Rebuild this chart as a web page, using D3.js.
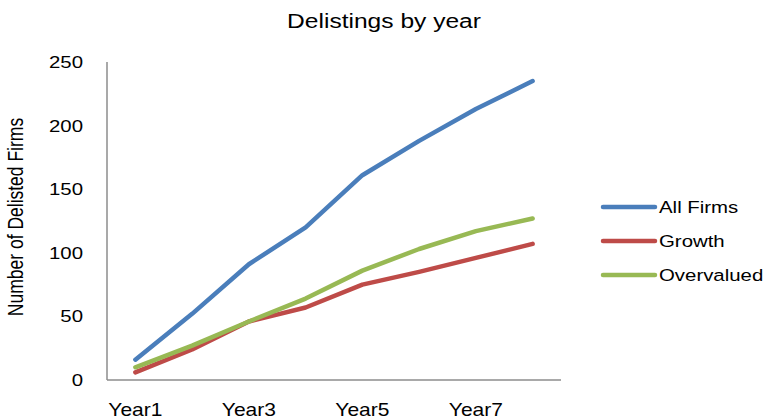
<!DOCTYPE html>
<meta charset="utf-8">
<head>
  <title>Delistings by year</title>
  <script src="https://d3js.org/d3.v7.min.js"></script>
  <style>
    body { margin: 0; background: #fff; font-family: "Liberation Sans", Arial, sans-serif; }
    .axis-line { stroke: #8c8c8c; stroke-width: 1.5; fill: none; }
    .series { fill: none; stroke-width: 4.5; stroke-linecap: round; stroke-linejoin: round; }
  </style>
</head>
<body>
<script>
  // Chart data
  var years = ["Year1", "Year2", "Year3", "Year4", "Year5", "Year6", "Year7", "Year8"];
  var xLabels = ["Year1", "Year3", "Year5", "Year7"];
  var allFirms = [16, 52, 91, 120, 161, 188, 213, 235];
  var growth = [6, 24, 46, 57, 75, 85, 96, 107];
  var overvalued = [10, 27, 46, 64, 86, 103, 117, 127];
  var yTicks = [0, 50, 100, 150, 200, 250];
  var seriesNames = ["All Firms", "Growth", "Overvalued"];
  var seriesColors = ["#4a7ebb", "#be4b48", "#98b954"];

  var width = 766, height = 420;
  var plot = { left: 107, right: 561, top: 62, bottom: 380 };
  // the original picture is stretched sideways, so text is widened a bit
  var stretch = 1.2;

  var svg = d3.select("body").append("svg")
    .attr("width", width)
    .attr("height", height);

  var x = d3.scaleBand().domain(years).range([plot.left, plot.right]);
  var y = d3.scaleLinear().domain([0, 250]).range([plot.bottom, plot.top]);

  function place(px, py) {
    return "translate(" + px + "," + py + ") scale(" + stretch + ",1)";
  }

  // Title
  svg.append("text")
    .attr("transform", "translate(384,28) scale(1.17,1)")
    .attr("text-anchor", "middle")
    .style("font-size", "21px")
    .text("Delistings by year");

  // Y axis title
  svg.append("text")
    .attr("transform", "translate(23,217) scale(1.25,1) rotate(-90)")
    .attr("text-anchor", "middle")
    .style("font-size", "17.5px")
    .text("Number of Delisted Firms");

  // Axis lines
  svg.append("line").attr("class", "axis-line")
    .attr("x1", plot.left).attr("x2", plot.left).attr("y1", plot.top).attr("y2", plot.bottom);
  svg.append("line").attr("class", "axis-line")
    .attr("x1", plot.left).attr("x2", plot.right).attr("y1", plot.bottom).attr("y2", plot.bottom);

  // Y tick labels
  svg.selectAll(".ytick")
    .data(yTicks)
    .enter().append("text")
    .attr("class", "ytick")
    .attr("transform", function(d) { return place(83, y(d)); })
    .attr("dy", "0.35em")
    .attr("text-anchor", "end")
    .style("font-size", "17px")
    .text(function(d) { return d; });

  // X tick labels
  svg.selectAll(".xtick")
    .data(xLabels)
    .enter().append("text")
    .attr("class", "xtick")
    .attr("transform", function(d) { return place(x(d) + x.bandwidth() / 2, 416); })
    .attr("text-anchor", "middle")
    .style("font-size", "17.5px")
    .text(function(d) { return d; });

  // Lines
  var line = d3.line()
    .x(function(d, i) { return x(years[i]) + x.bandwidth() / 2; })
    .y(function(d) { return y(d); });

  var allSeries = [allFirms, growth, overvalued];
  svg.selectAll(".series")
    .data(allSeries)
    .enter().append("path")
    .attr("class", "series")
    .attr("stroke", function(d, i) { return seriesColors[i]; })
    .attr("d", line);

  // Legend
  var legend = svg.selectAll(".legend")
    .data(seriesNames)
    .enter().append("g")
    .attr("class", "legend")
    .attr("transform", function(d, i) { return "translate(0," + (207 + i * 34) + ")"; });

  legend.append("line")
    .attr("x1", 603).attr("x2", 655)
    .attr("y1", 0).attr("y2", 0)
    .attr("stroke", function(d, i) { return seriesColors[i]; })
    .attr("stroke-width", 4.5)
    .attr("stroke-linecap", "round");

  legend.append("text")
    .attr("transform", place(659, 0))
    .attr("dy", "0.35em")
    .style("font-size", "17px")
    .text(function(d) { return d; });
</script>
</body>
</html>
